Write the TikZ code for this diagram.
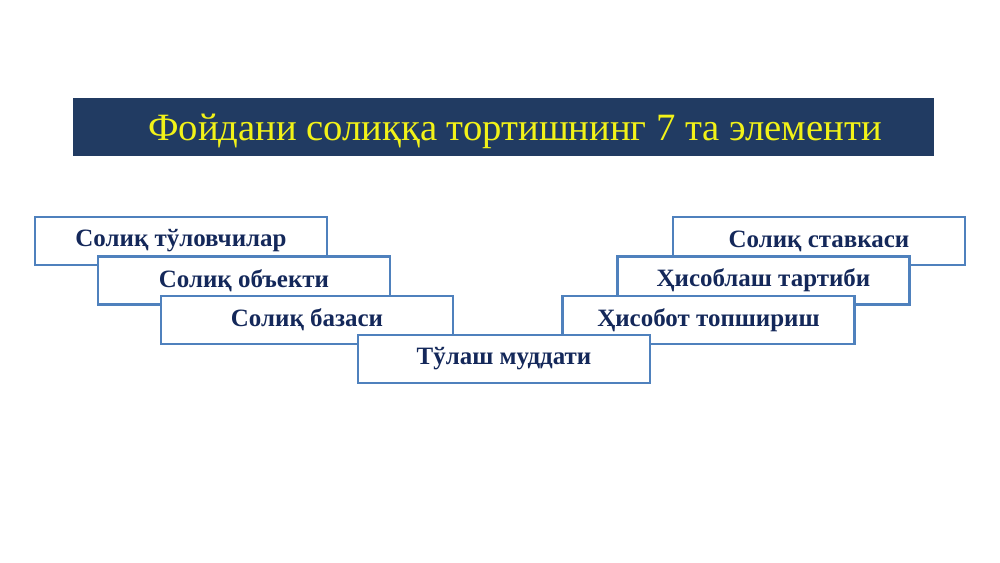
\documentclass[tikz,border=0pt]{standalone}
\usepackage{fontspec}
\setmainfont{Liberation Serif}
\definecolor{barblue}{HTML}{213B62}
\definecolor{titleyellow}{HTML}{F2F218}
\definecolor{edgeblue}{HTML}{4F81BD}
\definecolor{textnavy}{HTML}{14285A}
\tikzset{
  elem/.style={draw=edgeblue,line width=1.2pt,fill=white,minimum width=5.84cm,minimum height=0.96cm,inner sep=0pt,text=textnavy,font=\fontsize{14.2}{17}\selectfont\bfseries},
  titlebar/.style={fill=barblue,minimum width=17.22cm,minimum height=1.16cm,inner sep=0pt}
}
\begin{document}
\begin{tikzpicture}
\useasboundingbox (0,0) rectangle (20,11.26);
\node[titlebar] (bar) at (10.07,8.72) {};
\node[text=titleyellow,font=\fontsize{22}{26}\selectfont] (title) at (10.30,8.64) {Фойдани солиққа тортишнинг 7 та элементи};
%левая лестница
\node[elem] (payers) at (3.62,6.44) {Солиқ тўловчилар};
\node[elem] (object) at (4.88,5.65) {Солиқ объекти};
\node[elem] (base) at (6.14,4.86) {Солиқ базаси};
%правая лестница
\node[elem] (rate) at (16.38,6.44) {Солиқ ставкаси};
\node[elem] (calc) at (15.27,5.65) {Ҳисоблаш тартиби};
\node[elem] (report) at (14.17,4.86) {Ҳисобот топшириш};
\node[elem] (term) at (10.08,4.08) {Тўлаш муддати};
\end{tikzpicture}
\end{document}
